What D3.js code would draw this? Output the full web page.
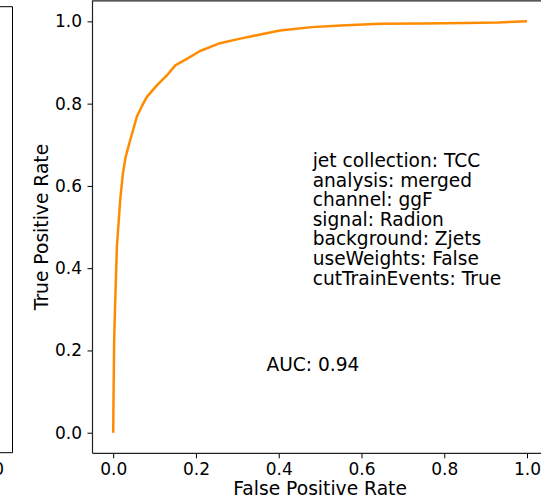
<!DOCTYPE html>
<html>
<head>
<meta charset="utf-8">
<script src="https://cdn.jsdelivr.net/npm/d3@7"></script>
<style>
  html, body { margin: 0; padding: 0; background: #fff; }
  svg { display: block; }
  text { font-family: "DejaVu Sans", sans-serif; fill: #000; }
</style>
</head>
<body>
<svg id="chart" width="541" height="501"></svg>
<script>
// ---- data ----
const fpr = [0, 0.001, 0.0024, 0.005, 0.009, 0.017, 0.0234, 0.030, 0.041, 0.057, 0.070, 0.081, 0.094, 0.106, 0.118, 0.130, 0.150, 0.178, 0.210, 0.258, 0.307, 0.350, 0.403, 0.48, 0.55, 0.645, 0.75, 0.85, 0.93, 0.97, 1.0];
const tpr = [0, 0.1, 0.226, 0.323, 0.454, 0.566, 0.630, 0.670, 0.711, 0.768, 0.795, 0.816, 0.831, 0.845, 0.857, 0.869, 0.893, 0.909, 0.928, 0.947, 0.958, 0.967, 0.978, 0.986, 0.990, 0.994, 0.995, 0.996, 0.997, 0.999, 1.0];
const xTicks = [0, 0.2, 0.4, 0.6, 0.8, 1.0];
const yTicks = [0, 0.2, 0.4, 0.6, 0.8, 1.0];
const infoLines = ["jet collection: TCC", "analysis: merged", "channel: ggF", "signal: Radion", "background: Zjets", "useWeights: False", "cutTrainEvents: True"];
const aucLabel = "AUC: 0.94";
const xLabel = "False Positive Rate";
const yLabel = "True Positive Rate";
const leftPlotTick = "1.0";

// ---- layout ----
const svg = d3.select("#chart");
const L = 92.5, R = 547.7, T = 0.8, B = 453.3;
const x = d3.scaleLinear().domain([-0.05, 1.05]).range([L, R]);
const y = d3.scaleLinear().domain([-0.05, 1.05]).range([B, T]);

// partial neighbouring subplot at left edge
svg.append("path")
  .attr("d", `M-2,6.7 H12.5 V452.7 H-2`)
  .attr("fill", "none").attr("stroke", "#000").attr("stroke-width", 1);
svg.append("text").attr("x", 4).attr("y", 475)
  .attr("text-anchor", "end").attr("font-size", 17).text(leftPlotTick);

// axes
const fmt = d3.format(".1f");
const gx = svg.append("g").attr("transform", `translate(0,${B})`)
  .call(d3.axisBottom(x).tickValues(xTicks).tickFormat(fmt).tickSize(5).tickPadding(4.6));
const gy = svg.append("g").attr("transform", `translate(${L},0)`)
  .call(d3.axisLeft(y).tickValues(yTicks).tickFormat(fmt).tickSize(5).tickPadding(5.5));
[gx, gy].forEach(g => {
  g.select(".domain").remove();
  g.selectAll("line").attr("stroke", "#000").attr("stroke-width", 1);
  g.selectAll("text").attr("font-size", 17).attr("font-family", "DejaVu Sans").attr("fill", "#000");
});

// spines
svg.append("path")
  .attr("d", `M${L},${B} V${T} H${R+5} M${L},${B} H${R+5}`)
  .attr("fill", "none").attr("stroke", "#222").attr("stroke-width", 1.2);

// ROC curve
const pts = fpr.map((f, i) => [f, tpr[i]]);
svg.append("path").datum(pts)
  .attr("d", d3.line().x(d => x(d[0])).y(d => y(d[1])))
  .attr("fill", "none").attr("stroke", "#ff8c00").attr("stroke-width", 2.5)
  .attr("stroke-linejoin", "round");

// labels
svg.append("text").attr("x", (L + R) / 2).attr("y", 495)
  .attr("text-anchor", "middle").attr("font-size", 18.7).text(xLabel);
svg.append("text").attr("transform", `translate(47.5,${(T + B) / 2}) rotate(-90)`)
  .attr("text-anchor", "middle").attr("font-size", 18.7).text(yLabel);

// info text
const info = svg.append("text").attr("font-size", 18.6);
infoLines.forEach((s, i) => {
  info.append("tspan").attr("x", 312.7).attr("y", 167 + i * 19.6).text(s);
});
svg.append("text").attr("x", 266.5).attr("y", 371).attr("font-size", 18.6).text(aucLabel);
</script>
</body>
</html>
